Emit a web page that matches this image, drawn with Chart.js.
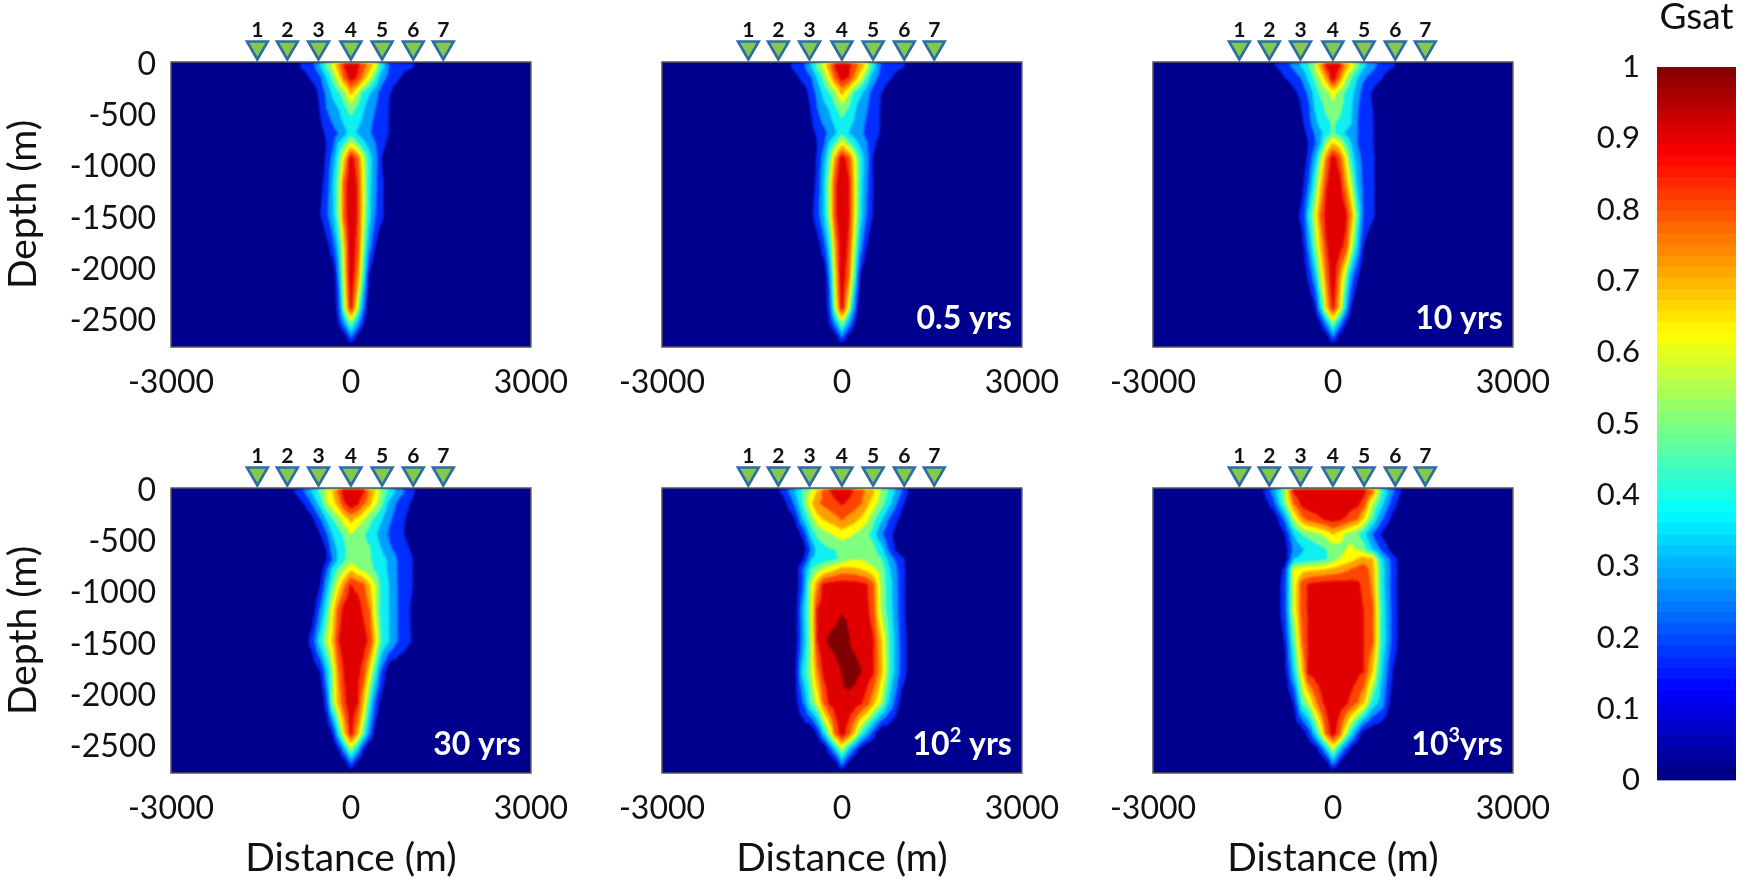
<!DOCTYPE html>
<html>
<head>
<meta charset="utf-8">
<title>Gsat</title>
<script src="https://cdn.jsdelivr.net/npm/chart.js@4/dist/chart.umd.min.js"></script>
<style>
  html, body { margin: 0; padding: 0; background: #fff; }
  body { width: 1750px; height: 882px; position: relative; overflow: hidden; }
  canvas { position: absolute; }
</style>
</head>
<body>
<script>
// nodes of the Gsat grid, in metres
const distances = [-1200,-1000,-800,-650,-500,-400,-300,-200,-100,0,100,200,300,400,500,650,800,1000,1200];
const depths = [-25,-150,-300,-450,-600,-700,-800,-950,-1200,-1500,-1800,-2100,-2400,-2550,-2680];
const surfaceDepth = 0;
const bottomDepth = -2790;

const xTicks = [-3000, 0, 3000];
const yTicks = [0, -500, -1000, -1500, -2000, -2500];
const colorbarTicks = [0, .1, .2, .3, .4, .5, .6, .7, .8, .9, 1];

const stationNames = ["1", "2", "3", "4", "5", "6", "7"];
const stationX = [-1560, -1060, -540, 0, 520, 1040, 1540];
const stationY = 142;

const contourLevels = [.1, .2, .3, .4, .5, .6, .7, .8, .9];

// [text, superscript, text after it]
const panelLabels = [[""], ["0.5 yrs"], ["10 yrs"], ["30 yrs"], ["10", "2", " yrs"], ["10", "3", "yrs"]];

const gsatStart = [
  [0,0,.13,.16,.31,.44,.53,.67,.82,.88,.83,.75,.66,.55,.37,.18,.14,.13,0],
  [0,0,.05,.12,.19,.31,.42,.55,.73,.85,.79,.66,.53,.4,.25,.16,.105,.02,0],
  [0,0,0,.02,.14,.22,.32,.39,.46,.62,.5,.37,.31,.24,.16,.1,.03,0,0],
  [0,0,0,.01,.11,.2,.26,.3,.38,.44,.39,.31,.25,.2,.15,.09,.02,0,0],
  [0,0,0,.01,.09,.15,.2,.26,.31,.36,.32,.28,.22,.18,.15,.09,.02,0,0],
  [0,0,0,0,.06,.12,.16,.2,.27,.36,.29,.25,.21,.17,.14,.09,.02,0,0],
  [0,0,0,0,.03,.1,.17,.31,.4,.52,.42,.33,.26,.2,.14,.06,0,0,0],
  [0,0,0,0,.02,.12,.23,.39,.6,.85,.73,.51,.35,.24,.1,0,0,0,0],
  [0,0,0,0,.07,.15,.29,.45,.74,.89,.79,.53,.34,.22,.13,0,0,0,0],
  [0,0,0,0,.1,.18,.28,.45,.74,.89,.79,.53,.33,.2,.13,0,0,0,0],
  [0,0,0,0,0,.06,.16,.32,.6,.89,.76,.47,.24,.1,0,0,0,0,0],
  [0,0,0,0,0,0,0,.22,.56,.88,.68,.38,.07,0,0,0,0,0,0],
  [0,0,0,0,0,0,0,.15,.48,.8,.51,.22,0,0,0,0,0,0,0],
  [0,0,0,0,0,0,0,.1,.27,.45,.28,.11,0,0,0,0,0,0,0],
  [0,0,0,0,0,0,0,0,.06,.22,.08,0,0,0,0,0,0,0,0],
];

const gsatHalfYear = [
  [0,0,.13,.17,.32,.45,.54,.68,.83,.88,.84,.76,.67,.56,.38,.19,.15,.13,0],
  [0,0,.06,.13,.2,.32,.43,.56,.74,.85,.8,.67,.54,.41,.26,.16,.11,.02,0],
  [0,0,0,.03,.15,.23,.33,.4,.47,.62,.51,.38,.32,.25,.17,.1,.03,0,0],
  [0,0,0,.01,.11,.2,.27,.31,.39,.45,.4,.32,.26,.21,.16,.09,.02,0,0],
  [0,0,0,.01,.09,.16,.21,.27,.32,.37,.33,.29,.23,.19,.15,.09,.02,0,0],
  [0,0,0,0,.06,.12,.17,.22,.29,.38,.3,.26,.22,.18,.14,.09,.02,0,0],
  [0,0,0,0,.03,.1,.18,.32,.42,.55,.44,.35,.27,.21,.14,.05,0,0,0],
  [0,0,0,0,.02,.12,.25,.42,.66,.86,.76,.55,.37,.25,.1,0,0,0,0],
  [0,0,0,0,.05,.14,.3,.5,.78,.89,.82,.58,.36,.22,.11,0,0,0,0],
  [0,0,0,0,.08,.17,.29,.48,.78,.89,.82,.57,.34,.2,.1,0,0,0,0],
  [0,0,0,0,0,.05,.16,.34,.65,.89,.78,.5,.25,.1,0,0,0,0,0],
  [0,0,0,0,0,0,0,.22,.58,.88,.7,.4,.08,0,0,0,0,0,0],
  [0,0,0,0,0,0,0,.16,.5,.82,.53,.23,0,0,0,0,0,0,0],
  [0,0,0,0,0,0,0,.1,.27,.46,.28,.11,0,0,0,0,0,0,0],
  [0,0,0,0,0,0,0,0,.06,.22,.08,0,0,0,0,0,0,0,0],
];

const gsat10yrs = [
  [0,.09,.16,.23,.33,.4,.49,.66,.83,.88,.83,.68,.57,.46,.34,.24,.17,.12,0],
  [0,0,.1,.15,.22,.33,.42,.52,.66,.87,.7,.52,.41,.31,.22,.16,.11,0,0],
  [0,0,0,.07,.15,.22,.34,.42,.46,.53,.47,.39,.33,.25,.16,.09,.02,0,0],
  [0,0,0,0,.11,.18,.3,.36,.43,.47,.43,.37,.31,.21,.15,.1,.02,0,0],
  [0,0,0,0,.09,.16,.27,.33,.37,.41,.38,.35,.3,.2,.16,.11,.03,0,0],
  [0,0,0,0,.05,.13,.2,.28,.35,.41,.36,.29,.25,.2,.16,.11,.03,0,0],
  [0,0,0,0,.02,.1,.18,.29,.49,.6,.54,.41,.3,.2,.16,.11,.03,0,0],
  [0,0,0,0,.03,.13,.27,.46,.69,.86,.75,.57,.37,.24,.17,.12,.03,0,0],
  [0,0,0,0,.08,.2,.38,.59,.79,.88,.85,.67,.49,.29,.18,.12,.03,0,0],
  [0,0,0,.05,.13,.33,.5,.71,.85,.89,.89,.84,.65,.41,.19,.12,.03,0,0],
  [0,0,0,0,.08,.23,.43,.61,.79,.88,.85,.77,.52,.31,.1,0,0,0,0],
  [0,0,0,0,0,.12,.26,.49,.7,.88,.68,.47,.24,.11,0,0,0,0,0],
  [0,0,0,0,0,0,.08,.31,.6,.8,.6,.32,.09,0,0,0,0,0,0],
  [0,0,0,0,0,0,0,.1,.27,.46,.28,.11,0,0,0,0,0,0,0],
  [0,0,0,0,0,0,0,0,.06,.22,.08,0,0,0,0,0,0,0,0],
];

const gsat30yrs = [
  [0,.07,.19,.31,.44,.52,.6,.73,.87,.88,.88,.82,.68,.59,.48,.37,.25,.14,0],
  [0,0,.09,.2,.35,.49,.56,.65,.79,.87,.82,.72,.63,.52,.43,.26,.17,.09,0],
  [0,0,0,.07,.2,.31,.4,.47,.56,.63,.57,.51,.43,.38,.31,.21,.14,.06,0],
  [0,0,0,0,.1,.19,.3,.36,.42,.5,.45,.41,.37,.32,.25,.18,.13,.05,0],
  [0,0,0,0,.02,.1,.25,.32,.38,.46,.44,.42,.41,.36,.3,.21,.16,.09,0],
  [0,0,0,0,0,.09,.2,.32,.39,.45,.44,.43,.41,.38,.35,.27,.18,.11,0],
  [0,0,0,0,.05,.18,.33,.42,.49,.58,.51,.47,.43,.39,.35,.27,.18,.11,0],
  [0,0,0,0,.1,.26,.41,.55,.68,.8,.76,.72,.61,.5,.37,.29,.18,.11,0],
  [0,0,0,.03,.22,.38,.56,.73,.85,.88,.87,.78,.7,.5,.36,.29,.18,.09,0],
  [0,0,0,.14,.36,.49,.61,.8,.88,.89,.89,.85,.78,.58,.4,.29,.18,.1,0],
  [0,0,0,0,.1,.28,.47,.69,.81,.88,.84,.76,.57,.38,.18,0,0,0,0],
  [0,0,0,0,0,.16,.46,.63,.78,.87,.81,.61,.39,.18,.06,0,0,0,0],
  [0,0,0,0,0,0,.1,.34,.6,.81,.64,.42,.22,.05,0,0,0,0,0],
  [0,0,0,0,0,0,0,.1,.28,.48,.32,.12,0,0,0,0,0,0,0],
  [0,0,0,0,0,0,0,0,.06,.22,.08,0,0,0,0,0,0,0,0],
];

const gsat100yrs = [
  [0,.12,.28,.41,.52,.6,.72,.8,.84,.87,.84,.79,.74,.68,.63,.49,.38,.2,0],
  [0,.03,.2,.39,.59,.69,.72,.75,.78,.81,.78,.75,.71,.64,.56,.45,.31,.12,0],
  [0,0,.08,.29,.46,.56,.61,.64,.67,.71,.67,.64,.59,.53,.45,.32,.18,.06,0],
  [0,0,0,.12,.35,.42,.46,.49,.52,.55,.52,.5,.46,.43,.37,.21,.12,0,0],
  [0,0,0,.03,.22,.34,.37,.39,.4,.42,.43,.44,.45,.45,.44,.34,.16,0,0],
  [0,0,0,.08,.3,.33,.35,.37,.39,.42,.48,.49,.49,.47,.44,.41,.25,.12,0],
  [0,0,0,.19,.4,.46,.51,.55,.59,.64,.63,.62,.6,.57,.53,.46,.3,.13,0],
  [0,0,0,.18,.52,.67,.82,.84,.85,.85,.85,.85,.83,.81,.73,.47,.33,.13,0],
  [0,0,0,.26,.52,.81,.85,.87,.88,.895,.89,.88,.86,.83,.76,.48,.34,.13,0],
  [0,0,0,.24,.5,.8,.89,.91,.92,.93,.905,.88,.87,.84,.82,.6,.38,.15,0],
  [0,0,.03,.32,.5,.68,.82,.85,.88,.9,.93,.93,.905,.86,.82,.62,.38,.15,0],
  [0,0,.03,.19,.42,.53,.71,.82,.86,.89,.88,.86,.82,.76,.65,.49,.27,.05,0],
  [0,0,0,0,0,.12,.31,.49,.72,.85,.75,.59,.41,.29,.17,0,0,0,0],
  [0,0,0,0,0,0,0,.17,.32,.5,.33,.2,.08,0,0,0,0,0,0],
  [0,0,0,0,0,0,0,0,.07,.25,.1,0,0,0,0,0,0,0,0],
];

const gsat1000yrs = [
  [.06,.24,.48,.82,.87,.88,.88,.89,.89,.89,.89,.89,.89,.88,.85,.71,.42,.21,.05],
  [0,.15,.43,.7,.84,.86,.87,.87,.87,.88,.87,.87,.85,.83,.76,.5,.34,.14,0],
  [0,0,.22,.5,.68,.73,.76,.79,.82,.84,.82,.79,.74,.7,.59,.4,.22,.06,0],
  [0,0,.09,.3,.41,.43,.46,.49,.53,.6,.55,.49,.45,.41,.35,.2,.09,0,0],
  [0,0,.04,.22,.29,.33,.35,.37,.4,.44,.46,.49,.52,.49,.44,.3,.18,.04,0],
  [0,0,.02,.3,.33,.34,.35,.37,.39,.45,.5,.53,.56,.6,.65,.62,.33,.14,0],
  [0,0,.12,.52,.56,.57,.58,.59,.6,.62,.64,.67,.7,.73,.76,.66,.36,.15,0],
  [0,0,.15,.51,.76,.81,.83,.84,.85,.85,.85,.84,.84,.82,.78,.68,.36,.14,0],
  [0,0,.15,.51,.76,.81,.85,.87,.88,.88,.88,.87,.86,.83,.8,.72,.39,.15,0],
  [0,0,.1,.4,.7,.81,.85,.87,.88,.88,.88,.87,.86,.84,.8,.72,.39,.15,0],
  [0,0,.06,.3,.6,.82,.85,.86,.88,.88,.88,.87,.86,.83,.8,.6,.32,.09,0],
  [0,0,0,.1,.42,.5,.65,.77,.84,.88,.86,.83,.77,.7,.61,.37,.26,.03,0],
  [0,0,0,0,.04,.14,.3,.49,.72,.86,.72,.52,.34,.19,.05,0,0,0,0],
  [0,0,0,0,0,0,.05,.16,.32,.5,.33,.18,.07,0,0,0,0,0,0],
  [0,0,0,0,0,0,0,0,.07,.25,.1,0,0,0,0,0,0,0,0],
];

const grids = [gsatStart, gsatHalfYear, gsat10yrs, gsat30yrs, gsat100yrs, gsat1000yrs];

// look
const baseColor = "#00008f";
const contourColors = ["#0030ff", "#00a0ff", "#10f0f0", "#80ff80", "#ffff00", "#ffa000", "#ff4500", "#e00000", "#800000"];
const textColor = "#111";
const plotLefts = [171, 662, 1153];
const plotTops = [62, 488];
const plotW = 360;
const plotH = 285;

Chart.defaults.font.family = "Lato, 'Noto Sans', sans-serif";
Chart.defaults.color = textColor;
Chart.defaults.animation = false;
Chart.defaults.responsive = false;

function jet(t) {
  const c = (v) => Math.round(255 * Math.max(0, Math.min(1, v)));
  return `rgb(${c(1.5 - Math.abs(4 * t - 3))},${c(1.5 - Math.abs(4 * t - 2))},${c(1.5 - Math.abs(4 * t - 1))})`;
}

function addCanvas(left, top, w, h) {
  const cv = document.createElement("canvas");
  cv.width = w;
  cv.height = h;
  cv.style.left = left + "px";
  cv.style.top = top + "px";
  document.body.appendChild(cv);
  return cv.getContext("2d");
}

// part of a triangle where the value is at least "level"
function clipTriangle(tri, level) {
  const out = [];
  for (let i = 0; i < tri.length; i++) {
    const a = tri[i];
    const b = tri[(i + 1) % tri.length];
    if (a.v >= level) out.push(a);
    if ((a.v >= level) !== (b.v >= level)) {
      const f = (level - a.v) / (b.v - a.v);
      out.push({ x: a.x + f * (b.x - a.x), y: a.y + f * (b.y - a.y), v: level });
    }
  }
  return out;
}

// filled contours of the grid, read through the chart's scales
function contourPlugin(grid) {
  const ys = [surfaceDepth, ...depths, bottomDepth];
  const empty = distances.map(() => 0);
  const rows = [empty, ...grid, empty];
  return {
    id: "contour",
    beforeDatasetsDraw(chart) {
      const { ctx, chartArea: a, scales } = chart;
      const node = (i, j) => ({
        x: scales.x.getPixelForValue(distances[i]),
        y: scales.y.getPixelForValue(ys[j]),
        v: rows[j][i],
      });
      ctx.save();
      ctx.beginPath();
      ctx.rect(a.left, a.top, a.width, a.height);
      ctx.clip();
      ctx.fillStyle = baseColor;
      ctx.fillRect(a.left, a.top, a.width, a.height);
      ctx.filter = "blur(1px)";
      contourLevels.forEach((level, n) => {
        ctx.beginPath();
        for (let j = 0; j < ys.length - 1; j++) {
          for (let i = 0; i < distances.length - 1; i++) {
            const q = [node(i, j), node(i + 1, j), node(i + 1, j + 1), node(i, j + 1)];
            const mid = {
              x: (q[0].x + q[2].x) / 2,
              y: (q[0].y + q[2].y) / 2,
              v: (q[0].v + q[1].v + q[2].v + q[3].v) / 4,
            };
            for (let k = 0; k < 4; k++) {
              const poly = clipTriangle([q[k], q[(k + 1) % 4], mid], level);
              if (poly.length < 3) continue;
              ctx.moveTo(poly[0].x, poly[0].y);
              poly.slice(1).forEach((p) => ctx.lineTo(p.x, p.y));
              ctx.closePath();
            }
          }
        }
        ctx.fillStyle = contourColors[n];
        ctx.strokeStyle = contourColors[n];
        ctx.lineWidth = 0.6;
        ctx.fill();
        ctx.stroke();
      });
      ctx.restore();
    },
  };
}

// frame, station numbers and the time label
function panelPlugin(label) {
  return {
    id: "panelText",
    afterDatasetsDraw(chart) {
      const { ctx, chartArea: a, scales } = chart;
      ctx.save();
      ctx.strokeStyle = "#555";
      ctx.lineWidth = 1.5;
      ctx.strokeRect(a.left, a.top, a.width, a.height);
      ctx.textAlign = "center";
      ctx.textBaseline = "middle";
      ctx.fillStyle = "#111";
      ctx.font = "bold 21px Lato";
      stationNames.forEach((name, i) => {
        ctx.fillText(name, scales.x.getPixelForValue(stationX[i]), a.top - 32);
      });

      // right aligned, the superscript is written smaller and higher
      const [before, sup, after] = label;
      if (before) {
        const big = "bold 32px Lato";
        const small = "bold 20px Lato";
        ctx.textAlign = "left";
        ctx.fillStyle = "#fff";
        const y = a.bottom - 28;
        ctx.font = big;
        const w1 = ctx.measureText(before).width;
        const w3 = after ? ctx.measureText(after).width : 0;
        ctx.font = small;
        const w2 = sup ? ctx.measureText(sup).width : 0;
        let x = a.right - 10 - w1 - w2 - w3;
        ctx.font = big;
        ctx.fillText(before, x, y);
        x += w1;
        if (sup) {
          ctx.font = small;
          ctx.fillText(sup, x, y - 9);
          x += w2;
          ctx.font = big;
          ctx.fillText(after, x, y);
        }
      }
      ctx.restore();
    },
  };
}

function drawPanel(index) {
  const col = index % 3;
  const row = Math.floor(index / 3);
  const hasY = col === 0;
  const hasTitle = row === 1;
  const leftSpace = hasY ? plotLefts[0] : 70;
  const bottomSpace = hasTitle ? 109 : 60;
  const ctx = addCanvas(plotLefts[col] - leftSpace, plotTops[row] - 62, leftSpace + plotW + 45, 62 + plotH + bottomSpace);

  new Chart(ctx, {
    type: "scatter",
    data: {
      datasets: [
        {
          label: "Stations",
          data: stationX.map((x) => ({ x: x, y: stationY })),
          clip: false,
          pointStyle: "triangle",
          pointRotation: 180,
          pointRadius: 12,
          pointHoverRadius: 12,
          pointBackgroundColor: "#84c94c",
          pointBorderColor: "#2e6ca4",
          pointBorderWidth: 2.6,
        },
      ],
    },
    options: {
      layout: { autoPadding: false, padding: { left: 0, right: 45, top: 62, bottom: 0 } },
      plugins: { legend: { display: false }, tooltip: { enabled: false } },
      scales: {
        x: {
          type: "linear",
          min: -3000,
          max: 3000,
          afterBuildTicks: (s) => { s.ticks = xTicks.map((v) => ({ value: v })); },
          afterFit: (s) => { s.height = bottomSpace; },
          grid: { display: false },
          border: { display: false },
          ticks: { font: { size: 32 }, padding: 8, maxRotation: 0, autoSkip: false, callback: (v) => String(v) },
          title: { display: hasTitle, text: "Distance (m)", font: { size: 39 }, padding: { top: 8, bottom: 0 } },
        },
        y: {
          type: "linear",
          display: hasY,
          min: bottomDepth,
          max: surfaceDepth,
          afterBuildTicks: (s) => { s.ticks = yTicks.map((v) => ({ value: v })); },
          afterFit: (s) => { s.width = leftSpace; },
          grid: { display: false },
          border: { display: false },
          ticks: { font: { size: 32 }, padding: 7, labelOffset: 3, callback: (v) => String(v) },
          title: { display: true, text: "Depth (m)", font: { size: 39 }, padding: { top: 0, bottom: 0 } },
        },
      },
    },
    plugins: [contourPlugin(grids[index]), panelPlugin(panelLabels[index])],
  });
}

grids.forEach((g, i) => drawPanel(i));

// colour bar: one floating bar per colour step
const colorSteps = 64;
const colorbarDatasets = [];
for (let i = 0; i < colorSteps; i++) {
  colorbarDatasets.push({
    label: "step " + i,
    data: [[i / colorSteps, (i + 1) / colorSteps + 0.001]],
    backgroundColor: jet((i + 0.5) / colorSteps),
    grouped: false,
    barPercentage: 1,
    categoryPercentage: 1,
  });
}

new Chart(addCanvas(1570, 0, 180, 808), {
  type: "bar",
  data: { labels: ["Gsat"], datasets: colorbarDatasets },
  options: {
    layout: { autoPadding: false, padding: { top: 67, right: 14, bottom: 22, left: 0 } },
    plugins: { legend: { display: false }, tooltip: { enabled: false } },
    scales: {
      x: { display: false, afterFit: (s) => { s.height = 0; } },
      y: {
        min: 0,
        max: 1,
        afterBuildTicks: (s) => { s.ticks = colorbarTicks.map((v) => ({ value: v })); },
        afterFit: (s) => { s.width = 87; },
        grid: { display: false },
        border: { display: false },
        ticks: { font: { size: 31 }, padding: 9, callback: (v) => String(v) },
      },
    },
  },
  plugins: [
    {
      id: "barTitle",
      afterDraw(chart) {
        const { ctx, chartArea: a } = chart;
        ctx.save();
        ctx.fillStyle = textColor;
        ctx.font = "37px Lato";
        ctx.textAlign = "center";
        ctx.textBaseline = "middle";
        ctx.fillText("Gsat", (a.left + a.right) / 2, 17);
        ctx.restore();
      },
    },
  ],
});
</script>
</body>
</html>
